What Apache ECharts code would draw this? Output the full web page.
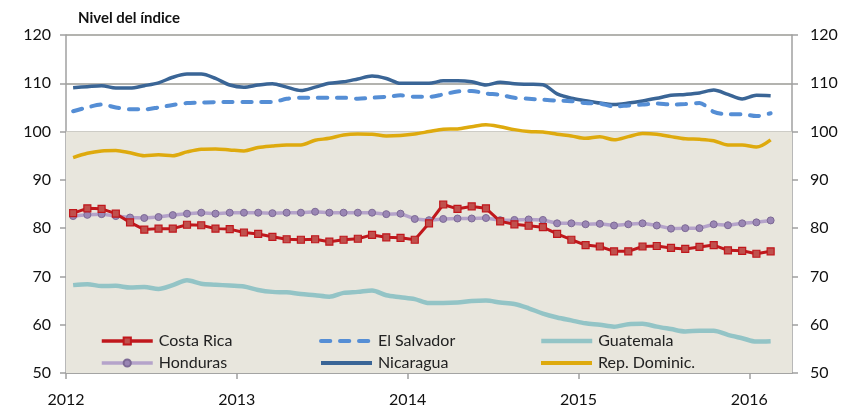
<!DOCTYPE html>
<html><head><meta charset="utf-8">
<script src="https://cdn.jsdelivr.net/npm/echarts@6/dist/echarts.min.js"></script>
<style>html,body{margin:0;padding:0;background:#fff}#c{width:845px;height:409px}</style>
</head><body><div id="c"></div>
<script>
const yearLabels = ['2012','2013','2014','2015','2016'];
const yTicks = [50,60,70,80,90,100,110,120];
const costaRica = [83.1,84.1,84.0,83.0,81.2,79.7,79.9,79.9,80.7,80.6, 79.9,79.8,79.1,78.8,78.2,77.7,77.6,77.7,77.2,77.6, 77.8,78.6,78.1,78.0,77.6,81.0,84.9,84.0,84.5,84.1, 81.4,80.8,80.5,80.2,78.8,77.6,76.5,76.2,75.2,75.2, 76.2,76.3,75.9,75.7,76.1,76.5,75.4,75.3,74.7,75.2];
const elSalvador = [104.2,105.0,105.6,105.0,104.6,104.6,105.0,105.5,105.9,106.0, 106.1,106.1,106.1,106.1,106.1,106.8,107.0,107.0,107.0,107.0, 106.8,107.0,107.2,107.5,107.2,107.2,107.7,108.3,108.4,107.9, 107.6,107.0,106.8,106.6,106.4,106.3,105.9,105.8,105.2,105.4, 105.6,105.8,105.6,105.7,105.9,104.1,103.6,103.6,103.2,103.8];
const guatemala = [68.2,68.4,68.0,68.05,67.7,67.8,67.4,68.2,69.2,68.5, 68.3,68.1,67.9,67.2,66.8,66.7,66.35,66.1,65.8,66.6, 66.8,67.1,66.1,65.7,65.3,64.5,64.5,64.6,64.9,65.0, 64.6,64.3,63.4,62.3,61.5,60.9,60.3,60.0,59.6,60.1, 60.2,59.6,59.1,58.6,58.75,58.75,57.9,57.2,56.5,56.6];
const honduras = [82.5,82.75,82.9,82.5,82.2,82.1,82.3,82.7,83.0,83.2, 83.0,83.2,83.2,83.2,83.1,83.2,83.2,83.4,83.2,83.2, 83.2,83.2,82.9,83.0,81.9,81.65,81.9,82.0,82.0,82.1, 81.65,81.7,81.8,81.7,81.0,81.0,80.8,80.9,80.55,80.8, 81.0,80.55,79.9,80.0,80.0,80.8,80.6,81.0,81.2,81.6];
const nicaragua = [109.1,109.3,109.5,109.0,109.0,109.5,110.1,111.25,111.9,111.9, 111.0,109.65,109.2,109.65,109.9,109.2,108.5,109.2,110.0,110.3, 110.9,111.5,111.0,110.0,110.0,110.0,110.5,110.5,110.3,109.65, 110.2,109.9,109.8,109.7,107.8,106.9,106.4,105.9,105.6,105.9, 106.35,106.9,107.5,107.7,108.0,108.6,107.7,106.75,107.5,107.4];
const repDominic = [94.6,95.5,96.0,96.1,95.6,95.0,95.2,95.0,95.8,96.35, 96.4,96.2,96.0,96.7,97.0,97.2,97.2,98.2,98.6,99.3, 99.5,99.45,99.1,99.2,99.5,100.0,100.5,100.55,101.0,101.4, 101.0,100.4,100.0,99.9,99.45,99.1,98.6,98.95,98.3,98.95, 99.6,99.45,98.95,98.5,98.4,98.1,97.2,97.2,96.8,98.3];
const seriesNames = ['Costa Rica','El Salvador','Guatemala','Honduras','Nicaragua','Rep. Dominic.'];

const FONT = 'Lato, "Open Sans", sans-serif';
const toPts = arr => arr.map((v,i)=>[i+0.5, v]);
const yearTickVals = yearLabels.map((_,k)=>k*12);

const chart = echarts.init(document.getElementById('c'), null, {renderer:'canvas'});

function yAx(pos, margin, grid){
  return {
    type:'value', position:pos, min:50, max:120, interval:10,
    axisLine:{show:true, lineStyle:{color:'#A0A0A0', width:1.5}},
    axisTick:{show:true, length:6, lineStyle:{color:'#A0A0A0', width:1.5}},
    axisLabel:{margin:margin, color:'#111', fontSize:16, fontFamily:FONT},
    splitLine:{show:grid, lineStyle:{color:'#9A9A95', width:1.5}}
  };
}
function legendAt(name, left, top, hideSymbol, lw){
  const l = {data:[name], left:left, top:top, orient:'horizontal', itemWidth:51, itemHeight:9, itemGap:0,
    lineStyle:{width:lw},
    textStyle:{fontSize:16, color:'#222', fontFamily:FONT, padding:[0,0,0,1]}, selectedMode:false};
  if (hideSymbol) l.itemStyle = {opacity:0};
  return l;
}
const option = {
  animation:false,
  backgroundColor:'#fff',
  title:{text:'Nivel del índice', left:73, top:6, textStyle:{fontSize:15, fontWeight:'bold', color:'#111', fontFamily:FONT}},
  grid:{left:66, right:53, top:35, bottom:36, containLabel:false},
  legend:[
    legendAt('Costa Rica', 95, 328, false, 3.5), legendAt('El Salvador', 314, 328, true, 4), legendAt('Guatemala', 534, 328, true, 4.5),
    legendAt('Honduras', 95, 350, false, 3.5), legendAt('Nicaragua', 314, 350, true, 4), legendAt('Rep. Dominic.', 534, 350, true, 4)
  ],
  xAxis:{type:'value', min:0, max:51,
    axisLine:{show:true, onZero:false, lineStyle:{color:'#A0A0A0', width:1.5}},
    axisTick:{show:true, length:6, customValues:yearTickVals, lineStyle:{color:'#A0A0A0', width:1.5}},
    axisLabel:{customValues:yearTickVals, margin:19, color:'#111', fontSize:16, fontFamily:FONT,
      formatter:v=>yearLabels[Math.round(v/12)]||''},
    splitLine:{show:false}},
  yAxis:[yAx('left',15,true), yAx('right',18,false)],
  series:[
    {name:'bg', type:'line', data:[], z:-5, silent:true,
      markArea:{silent:true, itemStyle:{color:'#E8E6DD'}, data:[[{yAxis:50},{yAxis:100}]]}},
    {name:'Guatemala', type:'line', data:toPts(guatemala), smooth:0.3, symbol:'none', showSymbol:false,
      lineStyle:{color:'#93C4C6', width:4.5}, itemStyle:{color:'#93C4C6'}},
    {name:'Rep. Dominic.', type:'line', data:toPts(repDominic), smooth:0.3, symbol:'none', showSymbol:false,
      lineStyle:{color:'#DEAA0E', width:3.5}, itemStyle:{color:'#DEAA0E'}},
    {name:'Nicaragua', type:'line', data:toPts(nicaragua), smooth:0.3, symbol:'none', showSymbol:false,
      lineStyle:{color:'#3A6596', width:3.5}, itemStyle:{color:'#3A6596'}},
    {name:'El Salvador', type:'line', data:toPts(elSalvador), smooth:0.3, symbol:'none', showSymbol:false,
      lineStyle:{color:'#558ED5', width:4, type:[9.3,9.7], cap:'round'}, itemStyle:{color:'#558ED5'}},
    {name:'Honduras', type:'line', data:toPts(honduras), symbol:'circle', symbolSize:7,
      lineStyle:{color:'#B5A3CA', width:3.5}, itemStyle:{color:'#9A86B4', borderColor:'#7D6A95', borderWidth:1}},
    {name:'Costa Rica', type:'line', data:toPts(costaRica), symbol:'rect', symbolSize:7,
      lineStyle:{color:'#C0171C', width:3}, itemStyle:{color:'#C0504D', borderColor:'#C0171C', borderWidth:1.2}}
  ]
};
chart.setOption(option);
</script></body></html>
